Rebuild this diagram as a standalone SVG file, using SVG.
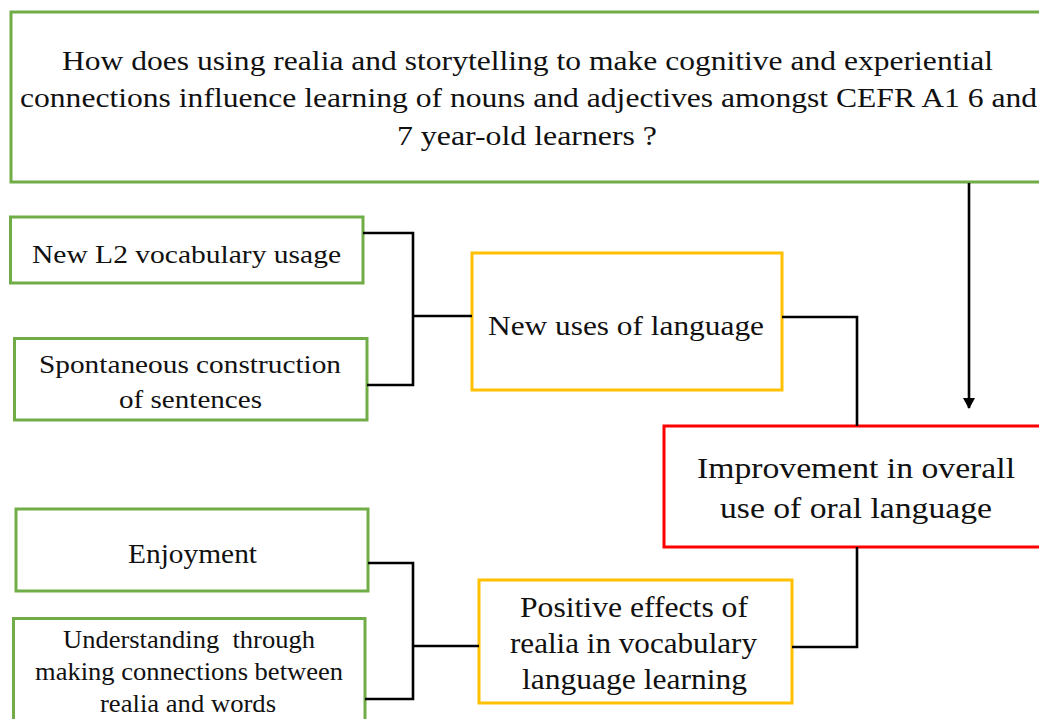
<svg xmlns="http://www.w3.org/2000/svg" width="1039" height="719" viewBox="0 0 1039 719">
  <defs>
    <marker id="arrow" markerUnits="userSpaceOnUse" markerWidth="14" markerHeight="14" refX="10" refY="6" orient="auto">
      <path d="M0,0 L11,6 L0,12 Z" fill="#000"/>
    </marker>
  </defs>
  <style>
    .box { fill: #fff; stroke-width: 3; }
    .green { stroke: #70ad47; }
    .yellow { stroke: #ffc000; }
    .red { stroke: #ff0000; }
    text { font-family: "Liberation Serif", "Times New Roman", serif; fill: #111; }
    .conn { fill: none; stroke: #000; stroke-width: 2.6; }
  </style>
  <rect width="1039" height="719" fill="#fff"/>

  <g id="question">
    <rect class="box green" x="11" y="12" width="1036" height="170"/>
    <text x="62" y="70" font-size="28" textLength="931" lengthAdjust="spacingAndGlyphs">How does using realia and storytelling to make cognitive and experiential</text>
    <text x="20" y="107" font-size="28" textLength="1017" lengthAdjust="spacingAndGlyphs">connections influence learning of nouns and adjectives amongst CEFR A1 6 and</text>
    <text x="397" y="145" font-size="28" textLength="260" lengthAdjust="spacingAndGlyphs">7 year-old learners ?</text>
  </g>

  <g id="vocab">
    <rect class="box green" x="10.5" y="217" width="352.5" height="66"/>
    <text x="32" y="263" font-size="26" textLength="309" lengthAdjust="spacingAndGlyphs">New L2 vocabulary usage</text>
  </g>

  <g id="spontaneous">
    <rect class="box green" x="14.5" y="338.5" width="352.5" height="81.5"/>
    <text x="39" y="373" font-size="26" textLength="302" lengthAdjust="spacingAndGlyphs">Spontaneous construction</text>
    <text x="119" y="408" font-size="26" textLength="143" lengthAdjust="spacingAndGlyphs">of sentences</text>
  </g>

  <g id="new-uses">
    <rect class="box yellow" x="472" y="253" width="310" height="137"/>
    <text x="488" y="335" font-size="27" textLength="276" lengthAdjust="spacingAndGlyphs">New uses of language</text>
  </g>

  <g id="improvement">
    <rect class="box red" x="664" y="426" width="388" height="121"/>
    <text x="697" y="478" font-size="30" textLength="318" lengthAdjust="spacingAndGlyphs">Improvement in overall</text>
    <text x="720" y="518" font-size="30" textLength="272" lengthAdjust="spacingAndGlyphs">use of oral language</text>
  </g>

  <g id="enjoyment">
    <rect class="box green" x="16" y="509" width="352" height="82"/>
    <text x="128" y="563" font-size="27" textLength="129" lengthAdjust="spacingAndGlyphs">Enjoyment</text>
  </g>

  <g id="understanding">
    <rect class="box green" x="13.5" y="618.5" width="351.5" height="120"/>
    <text x="63" y="648" font-size="26" textLength="252" lengthAdjust="spacingAndGlyphs" xml:space="preserve">Understanding  through</text>
    <text x="35" y="680" font-size="26" textLength="308" lengthAdjust="spacingAndGlyphs">making connections between</text>
    <text x="100" y="712" font-size="26" textLength="176" lengthAdjust="spacingAndGlyphs">realia and words</text>
  </g>

  <g id="positive-effects">
    <rect class="box yellow" x="479" y="580" width="313" height="123"/>
    <text x="520" y="617" font-size="29" textLength="228" lengthAdjust="spacingAndGlyphs">Positive effects of</text>
    <text x="510" y="653" font-size="29" textLength="247" lengthAdjust="spacingAndGlyphs">realia in vocabulary</text>
    <text x="522" y="689" font-size="29" textLength="225" lengthAdjust="spacingAndGlyphs">language learning</text>
  </g>

  <g id="connectors">
    <path class="conn" d="M363,233 H413 V385 H367"/>
    <path class="conn" d="M413,316 H472"/>
    <path class="conn" d="M782,317 H857 V426"/>
    <path class="conn" d="M857,547 V647 H792"/>
    <path class="conn" d="M368,563 H413 V699 H365"/>
    <path class="conn" d="M413,646 H479"/>
    <path class="conn" d="M969,183 V408" marker-end="url(#arrow)"/>
  </g>
</svg>
